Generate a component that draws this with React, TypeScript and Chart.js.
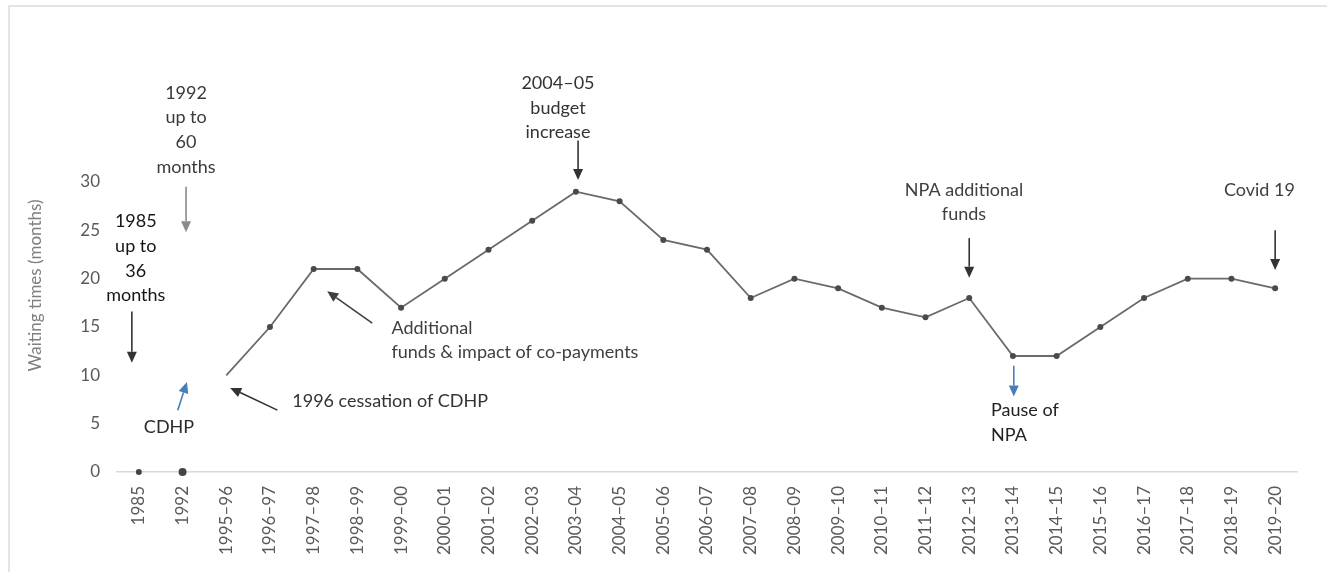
import React, { useEffect, useRef } from "react";
import { Chart, registerables } from "chart.js";

Chart.register(...registerables);

const categories = [
  "1985", "1992", "1995–96", "1996–97", "1997–98", "1998–99", "1999–00",
  "2000–01", "2001–02", "2002–03", "2003–04", "2004–05", "2005–06", "2006–07",
  "2007–08", "2008–09", "2009–10", "2010–11", "2011–12", "2012–13", "2013–14",
  "2014–15", "2015–16", "2016–17", "2017–18", "2018–19", "2019–20",
];

const earlyValues = [0, 0, null, null, null, null, null, null, null, null, null, null, null, null,
  null, null, null, null, null, null, null, null, null, null, null, null, null];

const waitingTimes = [null, null, 10, 15, 21, 21, 17, 20, 23, 26, 29, 28, 24, 23,
  18, 20, 19, 17, 16, 18, 12, 12, 15, 18, 20, 20, 19];

const yTicks = [0, 5, 10, 15, 20, 25, 30];

const yTitle = "Waiting times (months)";

// annotation texts, anchored in data space (category index, value)
const notes = [
  { lines: ["1985", "up to", "36", "months"], x: -0.07, y: 25.9, align: "center", color: "#151515" },
  { lines: ["1992", "up to", "60", "months"], x: 1.08, y: 39.2, align: "center", color: "#3a3a3a" },
  { lines: ["CDHP"], x: 0.69, y: 4.65, align: "center", color: "#2a2a2a" },
  { lines: ["1996 cessation of CDHP"], x: 3.51, y: 7.34, align: "left", color: "#333333" },
  { lines: ["Additional", "funds & impact of co-payments"], x: 5.78, y: 14.9, align: "left", color: "#404040" },
  { lines: ["2004–05", "budget", "increase"], x: 9.59, y: 40.2, align: "center", color: "#333333" },
  { lines: ["NPA additional", "funds"], x: 18.88, y: 29.2, align: "center", color: "#404040" },
  { lines: ["Pause of", "NPA"], x: 19.5, y: 6.4, align: "left", color: "#222222" },
  { lines: ["Covid 19"], x: 25.64, y: 29.2, align: "center", color: "#404040" },
];

const arrows = [
  { x1: -0.16, y1: 16.6, x2: -0.16, y2: 11.3, color: "#333333" },
  { x1: 1.08, y1: 29.5, x2: 1.08, y2: 24.8, color: "#8a8a8a" },
  { x1: 0.89, y1: 6.4, x2: 1.1, y2: 9.3, color: "#4a7ebb" },
  { x1: 3.17, y1: 6.4, x2: 2.09, y2: 8.7, color: "#333333" },
  { x1: 5.34, y1: 15.4, x2: 4.31, y2: 18.7, color: "#404040" },
  { x1: 10.05, y1: 34.3, x2: 10.05, y2: 30.2, color: "#333333" },
  { x1: 19.0, y1: 24.2, x2: 19.0, y2: 20.1, color: "#333333" },
  { x1: 20.02, y1: 11.0, x2: 20.02, y2: 7.8, color: "#4a7ebb" },
  { x1: 26.0, y1: 25.0, x2: 26.0, y2: 20.9, color: "#333333" },
];

const FONT = "Lato, 'Open Sans', sans-serif";

const notesPlugin = {
  id: "notes",
  afterDatasetsDraw(chart: any) {
    const { ctx, scales } = chart;
    const xs = scales.x;
    const ys = scales.y;
    ctx.save();
    // arrows
    arrows.forEach((a) => {
      const px1 = xs.getPixelForValue(a.x1);
      const py1 = ys.getPixelForValue(a.y1);
      const px2 = xs.getPixelForValue(a.x2);
      const py2 = ys.getPixelForValue(a.y2);
      const ang = Math.atan2(py2 - py1, px2 - px1);
      const headLen = 11;
      const headHalf = 5;
      const bx = px2 - headLen * Math.cos(ang);
      const by = py2 - headLen * Math.sin(ang);
      ctx.strokeStyle = a.color;
      ctx.fillStyle = a.color;
      ctx.lineWidth = 1.6;
      ctx.beginPath();
      ctx.moveTo(px1, py1);
      ctx.lineTo(bx, by);
      ctx.stroke();
      ctx.beginPath();
      ctx.moveTo(px2, py2);
      ctx.lineTo(bx + headHalf * Math.sin(ang), by - headHalf * Math.cos(ang));
      ctx.lineTo(bx - headHalf * Math.sin(ang), by + headHalf * Math.cos(ang));
      ctx.closePath();
      ctx.fill();
    });
    // texts
    ctx.font = `18px ${FONT}`;
    ctx.textBaseline = "middle";
    notes.forEach((n) => {
      const px = xs.getPixelForValue(n.x);
      const py = ys.getPixelForValue(n.y);
      ctx.fillStyle = n.color;
      ctx.textAlign = n.align as CanvasTextAlign;
      n.lines.forEach((line, i) => {
        ctx.fillText(line, px, py + i * 24.6);
      });
    });
    // y axis title
    ctx.font = `17px ${FONT}`;
    ctx.fillStyle = "#7f7f7f";
    ctx.textAlign = "center";
    const ty = ys.getPixelForValue(19.3);
    ctx.translate(36, ty);
    ctx.rotate(-Math.PI / 2);
    ctx.fillText(yTitle, 0, 0);
    ctx.restore();
  },
};

export default function App() {
  const canvasRef = useRef<HTMLCanvasElement | null>(null);

  useEffect(() => {
    if (!canvasRef.current) return;
    const chart = new Chart(canvasRef.current, {
      type: "line",
      data: {
        labels: categories,
        datasets: [
          {
            data: earlyValues,
            showLine: false,
            pointRadius: [3, 4],
            pointBackgroundColor: "#444444",
            pointBorderWidth: 0,
            clip: false,
          } as any,
          {
            data: waitingTimes,
            borderColor: "#6a6a6a",
            borderWidth: 1.8,
            pointRadius: (c: any) => (c.dataIndex === 2 ? 0 : 3),
            pointBackgroundColor: "#4a4a4a",
            pointBorderWidth: 0,
            spanGaps: false,
            tension: 0,
            clip: false,
          } as any,
        ],
      },
      options: {
        animation: false,
        responsive: true,
        maintainAspectRatio: false,
        events: [],
        layout: { padding: { top: 182, right: 30, left: 20, bottom: 0 } },
        plugins: { legend: { display: false }, tooltip: { enabled: false } },
        scales: {
          x: {
            type: "category",
            offset: true,
            grid: { display: false, drawTicks: false },
            border: { display: true, color: "#d9d9d9", width: 1.5 },
            ticks: {
              minRotation: 90,
              maxRotation: 90,
              autoSkip: false,
              padding: 14,
              color: "#595959",
              font: { family: FONT, size: 17 },
            },
            afterFit(s: any) {
              s.height = 100;
            },
          },
          y: {
            min: 0,
            max: 30,
            afterBuildTicks(s: any) {
              s.ticks = yTicks.map((v) => ({ value: v }));
            },
            grid: { display: false, drawTicks: false },
            border: { display: false },
            ticks: {
              padding: 17,
              color: "#595959",
              font: { family: FONT, size: 17 },
            },
            afterFit(s: any) {
              s.width = 97;
            },
          },
        },
      },
      plugins: [notesPlugin],
    });
    return () => chart.destroy();
  }, []);

  return (
    <div style={{ position: "absolute", left: 0, top: 0, width: 1327, height: 572, background: "#fff", overflow: "hidden" }}>
      <div
        style={{
          position: "absolute",
          left: 8,
          top: 5,
          width: 1319,
          height: 567,
          borderLeft: "2px solid #e4e4e4",
          borderTop: "2px solid #e4e4e4",
          boxSizing: "border-box",
        }}
      />
      <div style={{ position: "absolute", left: 0, top: 0, width: 1327, height: 572 }}>
        <canvas ref={canvasRef} />
      </div>
    </div>
  );
}
